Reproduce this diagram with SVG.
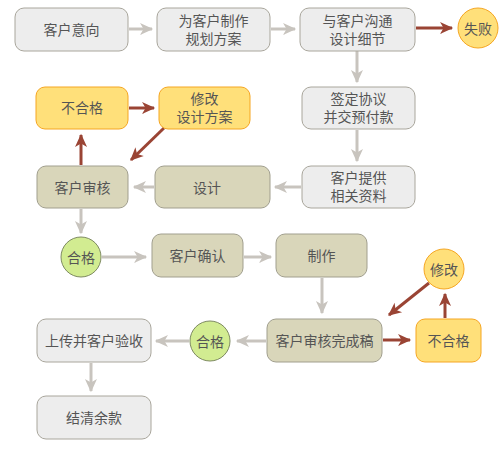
<svg xmlns="http://www.w3.org/2000/svg" width="500" height="450" viewBox="0 0 500 450">
<defs>
<marker id="ag" markerWidth="10" markerHeight="10" viewBox="0 0 10 10" refX="9" refY="5" markerUnits="userSpaceOnUse" orient="auto" style="overflow:visible">
<path d="M-1,0 L10,5 L-1,10 L2,5 Z" fill="#C8C4BE" transform="scale(1.2) translate(-1.5,-0.8)"/>
</marker>
<marker id="ar" markerWidth="10" markerHeight="10" viewBox="0 0 10 10" refX="9" refY="5" markerUnits="userSpaceOnUse" orient="auto" style="overflow:visible">
<path d="M-1,0 L10,5 L-1,10 L2,5 Z" fill="#9A4434" transform="scale(1.2) translate(-1.5,-0.8)"/>
</marker>
</defs>
<style>
.g{fill:#EDEDED;stroke:#A9A69C;stroke-width:1}
.o{fill:#D9D6BA;stroke:#A19F8E;stroke-width:1}
.y{fill:#FFE07A;stroke:#F5A623;stroke-width:1}
.gr{fill:#D2EC91;stroke:#7E8A62;stroke-width:1}
text{font-family:"Liberation Sans","Noto Sans CJK SC",sans-serif;font-size:14px;fill:#555;text-anchor:middle;dominant-baseline:central}
.cg{fill:none;stroke:#C8C4BE;stroke-width:3}
.cr{fill:none;stroke:#9A4434;stroke-width:3}
</style>
<rect width="500" height="450" fill="#FFFFFF"/>
<g id="connectors">
<line class="cg" x1="129" y1="29" x2="152" y2="29" marker-end="url(#ag)"/>
<line class="cg" x1="271" y1="29" x2="295" y2="29" marker-end="url(#ag)"/>
<line class="cr" x1="416" y1="28" x2="452" y2="28" marker-end="url(#ar)"/>
<line class="cg" x1="357" y1="51" x2="357" y2="82" marker-end="url(#ag)"/>
<line class="cg" x1="357" y1="130" x2="357" y2="161" marker-end="url(#ag)"/>
<line class="cg" x1="301" y1="187" x2="275" y2="187" marker-end="url(#ag)"/>
<line class="cg" x1="154" y1="187" x2="134" y2="187" marker-end="url(#ag)"/>
<line class="cr" x1="81" y1="165" x2="81" y2="135" marker-end="url(#ar)"/>
<line class="cr" x1="129" y1="108" x2="154" y2="108" marker-end="url(#ar)"/>
<line class="cr" x1="164" y1="128" x2="131" y2="160" marker-end="url(#ar)"/>
<line class="cg" x1="81" y1="209" x2="81" y2="233" marker-end="url(#ag)"/>
<line class="cg" x1="102" y1="257" x2="146" y2="257" marker-end="url(#ag)"/>
<line class="cg" x1="244" y1="257" x2="271" y2="257" marker-end="url(#ag)"/>
<line class="cg" x1="322" y1="278" x2="322" y2="313" marker-end="url(#ag)"/>
<line class="cr" x1="383" y1="340" x2="410" y2="340" marker-end="url(#ar)"/>
<line class="cr" x1="445" y1="318" x2="445" y2="294" marker-end="url(#ar)"/>
<line class="cr" x1="429" y1="283" x2="389" y2="315" marker-end="url(#ar)"/>
<line class="cg" x1="266" y1="341" x2="237" y2="341" marker-end="url(#ag)"/>
<line class="cg" x1="189" y1="341" x2="156" y2="341" marker-end="url(#ag)"/>
<line class="cg" x1="91" y1="363" x2="91" y2="391" marker-end="url(#ag)"/>
</g>
<g id="n1"><rect class="g" x="15" y="8" width="113" height="43" rx="9"/><text x="71.5" y="29.5">客户意向</text></g>
<g id="n2"><rect class="g" x="157" y="8" width="113" height="43" rx="9"/><text x="213.5" y="20.5">为客户制作</text><text x="213.5" y="38.5">规划方案</text></g>
<g id="n3"><rect class="g" x="300" y="8" width="115" height="43" rx="9"/><text x="357.5" y="20.5">与客户沟通</text><text x="357.5" y="38.5">设计细节</text></g>
<g id="n4"><circle class="y" cx="478" cy="28" r="20"/><text x="478" y="28.5">失败</text></g>
<g id="n5"><rect class="g" x="302" y="87" width="113" height="42" rx="9"/><text x="358.5" y="99">签定协议</text><text x="358.5" y="117">并交预付款</text></g>
<g id="n6"><rect class="g" x="302" y="166" width="113" height="42" rx="9"/><text x="358.5" y="178">客户提供</text><text x="358.5" y="196">相关资料</text></g>
<g id="n7"><rect class="o" x="155" y="166" width="115" height="42" rx="9"/><text x="207" y="187.5">设计</text></g>
<g id="n8"><rect class="o" x="37" y="166" width="91" height="42" rx="9"/><text x="82.5" y="187.5">客户审核</text></g>
<g id="n9"><rect class="y" x="36" y="87" width="92" height="42" rx="9"/><text x="82" y="108">不合格</text></g>
<g id="n10"><rect class="y" x="159" y="87" width="91" height="42" rx="9"/><text x="204.5" y="99">修改</text><text x="204.5" y="117">设计方案</text></g>
<g id="n11"><circle class="gr" cx="81" cy="257" r="20"/><text x="81" y="257.5">合格</text></g>
<g id="n12"><rect class="o" x="152" y="234" width="91" height="43" rx="9"/><text x="197.5" y="255.5">客户确认</text></g>
<g id="n13"><rect class="o" x="276" y="234" width="91" height="43" rx="9"/><text x="321.5" y="255.5">制作</text></g>
<g id="n14"><circle class="y" cx="444" cy="269" r="20"/><text x="444" y="269.5">修改</text></g>
<g id="n15"><rect class="o" x="267" y="319" width="115" height="43" rx="9"/><text x="324.5" y="341">客户审核完成稿</text></g>
<g id="n16"><rect class="y" x="416" y="319" width="65" height="43" rx="9"/><text x="448.5" y="341">不合格</text></g>
<g id="n17"><circle class="gr" cx="210" cy="341" r="20"/><text x="210" y="341.5">合格</text></g>
<g id="n18"><rect class="g" x="37" y="319" width="114" height="43" rx="9"/><text x="94" y="341">上传并客户验收</text></g>
<g id="n19"><rect class="g" x="37" y="396" width="114" height="43" rx="9"/><text x="94" y="418">结清余款</text></g>
</svg>
